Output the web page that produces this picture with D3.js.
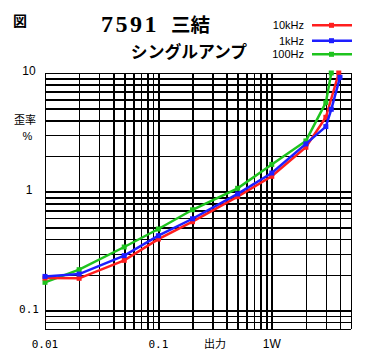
<!DOCTYPE html>
<html><head><meta charset="utf-8">
<script src="https://cdn.jsdelivr.net/npm/d3@7"></script>
<style>body{margin:0;background:#fff}svg{display:block}</style>
</head><body>
<svg id="c" width="370" height="360"></svg>
<script>
const seriesNames = ["10kHz", "1kHz", "100Hz"];
const seriesColors = ["#ff1e1e", "#1e1eff", "#1ec31e"];
const red10k = [[0.01,0.188],[0.02,0.187],[0.05,0.265],[0.1,0.40],[0.2,0.56],[0.5,0.91],[1,1.35],[2,2.37],[3,4.24],[3.9,10]];
const blue1k = [[0.01,0.194],[0.02,0.203],[0.05,0.29],[0.1,0.427],[0.2,0.593],[0.5,0.96],[1,1.44],[2,2.53],[3,3.54],[3.35,4.95],[4,9.2]];
const green100 = [[0.01,0.173],[0.02,0.221],[0.05,0.343],[0.1,0.486],[0.2,0.706],[0.5,1.07],[1,1.70],[2,2.68],[3,5.63],[3.35,10]];
const xGrid = [0.01,0.02,0.03,0.04,0.05,0.06,0.07,0.08,0.09,0.1,0.2,0.3,0.4,0.5,0.6,0.7,0.8,0.9,1,2,3,4,5];
const yGrid = [0.07,0.08,0.09,0.1,0.2,0.3,0.4,0.5,0.6,0.7,0.8,0.9,1,2,3,4,5,6,7,8,9,10];
const xTickLabels = [[0.01,"0.01"],[0.1,"0.1"],[1,"1W"]];
const yTickLabels = [[10,"10"],[1,"1"],[0.1,"0.1"]];

const svg = d3.select("#c");
const x = d3.scaleLog().domain([0.01,5]).range([45,351]);
const y = d3.scaleLog().domain([0.07,10]).range([329,73]);

// grid via axes
svg.append("g").attr("transform","translate(0,329)")
  .call(d3.axisBottom(x).tickValues(xGrid).tickSize(-256).tickFormat(""))
  .call(g=>g.select(".domain").remove())
  .call(g=>g.selectAll("line").attr("stroke","#000").attr("stroke-width",1.6).attr("shape-rendering","crispEdges"));
svg.append("g").attr("transform","translate(45,0)")
  .call(d3.axisLeft(y).tickValues(yGrid).tickSize(-306).tickFormat(""))
  .call(g=>g.select(".domain").remove())
  .call(g=>g.selectAll("line").attr("stroke","#000").attr("stroke-width",1.6).attr("shape-rendering","crispEdges"));

// tick labels
svg.append("g").selectAll("text").data(xTickLabels).join("text")
  .attr("x",d=>x(d[0])).attr("y",348).attr("text-anchor","middle")
  .attr("font-family",d=>d[1]==="1W"?"Liberation Sans, Arial, sans-serif":"DejaVu Sans Mono, monospace")
  .attr("font-size",d=>d[1]==="1W"?12:11).text(d=>d[1]);
svg.append("g").selectAll("text").data(yTickLabels).join("text")
  .attr("x",29).attr("y",d=>y(d[0])+2).attr("text-anchor","middle")
  .attr("font-family",d=>d[1]==="0.1"?"DejaVu Sans Mono, monospace":"Liberation Sans, Arial, sans-serif")
  .attr("font-size",d=>d[1]==="0.1"?11:12).text(d=>d[1]);

svg.append("text").attr("x",215).attr("y",348).attr("text-anchor","middle")
  .attr("font-family","Noto Sans CJK JP").attr("font-size",11).text("出力");
svg.append("text").attr("x",25).attr("y",124).attr("text-anchor","middle")
  .attr("font-family","Noto Sans CJK JP").attr("font-size",11).text("歪率");
svg.append("text").attr("x",27.5).attr("y",140).attr("text-anchor","middle")
  .attr("font-family","Liberation Sans, Arial, sans-serif").attr("font-size",11).text("%");

// titles
svg.append("text").attr("x",20).attr("y",26).attr("text-anchor","middle")
  .attr("font-family","Noto Sans CJK JP").attr("font-weight","bold").attr("font-size",14).text("図");
svg.append("text").attr("x",101).attr("y",32)
  .attr("font-family","Liberation Serif, Times New Roman, serif").attr("font-weight","bold")
  .attr("font-size",24).attr("letter-spacing",2.5).text("7591");
svg.append("text").attr("x",171).attr("y",32)
  .attr("font-family","Noto Sans CJK JP").attr("font-weight","bold").attr("font-size",19.5).text("三結");
svg.append("text").attr("x",189).attr("y",58).attr("text-anchor","middle")
  .attr("font-family","Noto Sans CJK JP").attr("font-weight","bold").attr("font-size",16.8).text("シングルアンプ");

// lines
const line = d3.line().x(d=>x(d[0])).y(d=>y(d[1]));
const series = [green100, red10k, blue1k];
const cols = [seriesColors[2], seriesColors[0], seriesColors[1]];
series.forEach((s,i)=>{
  svg.append("path").attr("d",line(s)).attr("fill","none").attr("stroke",cols[i]).attr("stroke-width",2.5);
  svg.append("g").selectAll("rect").data(s).join("rect")
    .attr("x",d=>x(d[0])-2.5).attr("y",d=>y(d[1])-2.5).attr("width",5).attr("height",5).attr("fill",cols[i]);
});

// legend
const legY = [25.3, 40.7, 54.3];
seriesNames.forEach((n,i)=>{
  svg.append("text").attr("x",304).attr("y",legY[i]+4).attr("text-anchor","end")
    .attr("font-family","Liberation Sans, Arial, sans-serif").attr("font-size",11).text(n);
  svg.append("line").attr("x1",312).attr("x2",352).attr("y1",legY[i]).attr("y2",legY[i])
    .attr("stroke",seriesColors[i]).attr("stroke-width",2.5);
  svg.append("rect").attr("x",329).attr("y",legY[i]-2.5).attr("width",5).attr("height",5).attr("fill",seriesColors[i]);
});
</script>
</body></html>
